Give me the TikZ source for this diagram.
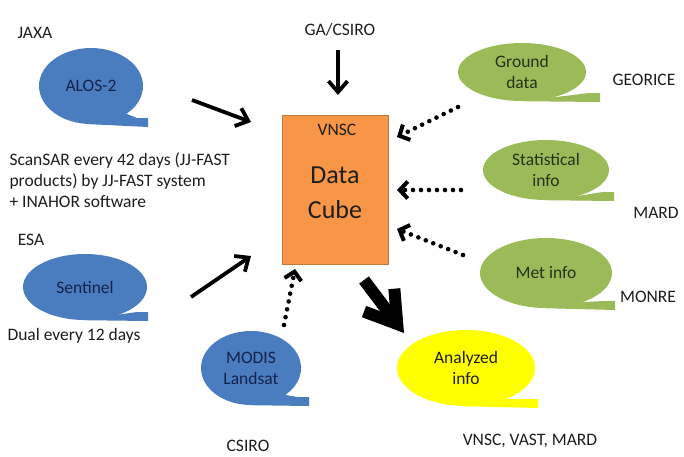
\documentclass[tikz,border=0pt]{standalone}
\usepackage{fontspec}
\setmainfont{Carlito}
\usetikzlibrary{arrows.meta,shapes.geometric,calc}
\definecolor{bblue}{RGB}{74,124,192}
\definecolor{bgreen}{RGB}{155,187,89}
\definecolor{borange}{RGB}{247,150,70}
\definecolor{byellow}{RGB}{255,255,0}
\definecolor{tblue}{RGB}{20,35,75}
\definecolor{tgreen}{RGB}{35,50,25}
\definecolor{txt}{RGB}{30,30,30}
\newcommand\bubtail[4]{%
  \fill[#4] (#1.-92) -- (#2,#3) -- (#2,{#3-9}) -- ({#2-11},{#3-9}) -- (#1.-38) -- cycle;}
\begin{document}
\begin{tikzpicture}[x=1pt,y=-1pt,
  font=\fontsize{17.5}{21}\selectfont,
  bub/.style={ellipse,inner sep=0pt,align=center,text=#1},
  lbl/.style={text=txt,align=left},
  solidarrow/.style={line width=3.8pt,-{Straight Barb[length=11pt,width=19pt,line width=3.8pt]}},
  dotarrow/.style={line width=4.6pt,line cap=round,dash pattern=on 0pt off 8pt,
     -{Straight Barb[length=8pt,width=17pt,line width=4pt]}},
  bigarrow/.style={line width=12pt,-{Straight Barb[length=30pt,width=38pt,line width=12pt]}}]
\useasboundingbox (0,0) rectangle (684,456);
\fill[white] (0,0) rectangle (684,456);

% Data cube
\node[draw=borange!80!black,line width=0.5pt,fill=borange,minimum width=106pt,minimum height=149pt,inner sep=0pt] (cube) at (335,190) {};
\node[text=txt] (vnsc) at (337,130) {VNSC};
\node[text=txt,align=center,font=\fontsize{26}{35}\selectfont] (dc) at (335,193) {Data\\Cube};

% blue bubbles
\node[bub=tblue,fill=bblue,minimum width=104pt,minimum height=76pt] (alos) at (91,86) {ALOS-2};
\bubtail{alos}{148}{127}{bblue}
\node[bub=tblue,fill=bblue,minimum width=124pt,minimum height=66pt] (sent) at (85,287) {Sentinel};
\bubtail{sent}{148}{321}{bblue}
\node[bub=tblue,fill=bblue,minimum width=100pt,minimum height=74pt] (modis) at (251,368) {MODIS\\Landsat};
\bubtail{modis}{309}{406}{bblue}

% green bubbles
\node[bub=tgreen,fill=bgreen,minimum width=128pt,minimum height=58pt] (ground) at (522,72) {Ground\\data};
\bubtail{ground}{600}{102}{bgreen}
\node[bub=tgreen,fill=bgreen,minimum width=126pt,minimum height=60pt] (stat) at (546,170) {Statistical\\info};
\bubtail{stat}{614}{201}{bgreen}
\node[bub=tgreen,fill=bgreen,minimum width=132pt,minimum height=70pt] (met) at (546,273) {Met info};
\bubtail{met}{615}{310}{bgreen}

% yellow bubble
\node[bub=txt,fill=byellow,minimum width=138pt,minimum height=76pt] (ana) at (466,368) {Analyzed\\info};
\bubtail{ana}{538}{408}{byellow}

% labels
\node[lbl] (jaxa) at (35,33) {JAXA};
\node[lbl] (ga) at (340,30) {GA/CSIRO};
\node[lbl] (esa) at (31,240) {ESA};
\node[lbl,anchor=west] (scan) at (6,180) {ScanSAR every 42 days (JJ-FAST\\products) by JJ-FAST system\\+ INAHOR software};
\node[lbl,anchor=west] (dual) at (4,336) {Dual every 12 days};
\node[lbl] (csiro) at (248,446) {CSIRO};
\node[lbl] (vvm) at (530,441) {VNSC, VAST, MARD};
\node[lbl] (georice) at (644,80) {GEORICE};
\node[lbl] (mard) at (656,213) {MARD};
\node[lbl] (monre) at (648,297) {MONRE};

% connector end points
\coordinate (a1s) at (192,100); \coordinate (a1e) at (251,122);
\coordinate (a2s) at (191,297); \coordinate (a2e) at (251,256);
\coordinate (a3s) at (338,50);  \coordinate (a3e) at (338,95);
\coordinate (d1s) at (458,107); \coordinate (d1e) at (397,137);
\coordinate (d2s) at (461,190); \coordinate (d2e) at (397,190);
\coordinate (d3s) at (463,255); \coordinate (d3e) at (397,229);
\coordinate (d4s) at (284,325); \coordinate (d4e) at (295,269);
\coordinate (bs) at (364,280);  \coordinate (be) at (404,333);

\draw[solidarrow] (a1s) -- (a1e);
\draw[solidarrow] (a2s) -- (a2e);
\draw[solidarrow] (a3s) -- (a3e);
\draw[dotarrow] (d1s) -- (d1e);
\draw[dotarrow] (d2s) -- (d2e);
\draw[dotarrow] (d3s) -- (d3e);
\draw[dotarrow] (d4s) -- (d4e);
\draw[bigarrow] (bs) -- (be);
\end{tikzpicture}
\end{document}
